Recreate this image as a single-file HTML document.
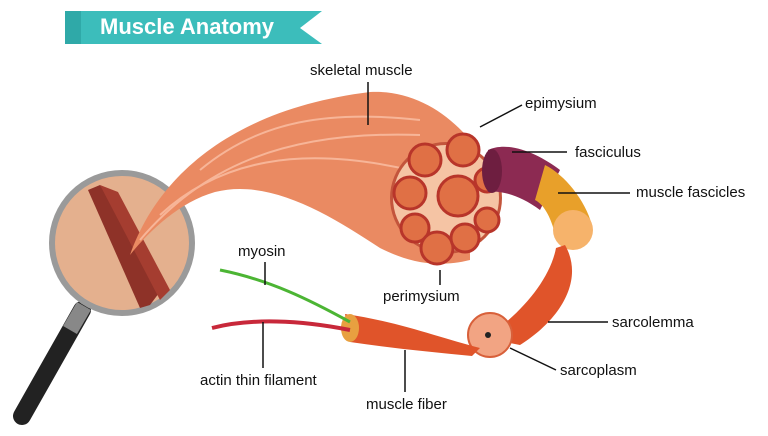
<!DOCTYPE html>
<html><head><meta charset="utf-8"><style>
html,body{margin:0;padding:0;background:#fff;}
svg{display:block;}
text{font-family:"Liberation Sans",sans-serif;fill:#111;}
</style></head><body>
<svg width="768" height="436" viewBox="0 0 768 436" xmlns="http://www.w3.org/2000/svg">
<polygon points="65,11 322,11 300,28 322,44 65,44" fill="#3cbdbb"/>
<rect x="65" y="11" width="16" height="33" fill="#2fa9a8"/>
<text x="100" y="34" font-size="22" font-weight="bold" style="fill:#fff">Muscle Anatomy</text>

<line x1="82" y1="310" x2="22" y2="416" stroke="#222" stroke-width="18" stroke-linecap="round"/>
<line x1="84" y1="306" x2="70" y2="330" stroke="#888" stroke-width="16"/>
<circle cx="122" cy="243" r="73" fill="#9a9a9a"/>
<circle cx="122" cy="243" r="67" fill="#e4b08e"/>
<path d="M88,190 L100,185 L165,285 L150,305 L140,308 Z" fill="#8e3228"/>
<path d="M100,185 L118,192 L170,290 L160,300 Z" fill="#a53d30"/>

<path d="M130,255 C160,170 240,108 370,92 C410,90 445,110 470,140 L470,260 C430,270 400,258 380,248 C330,215 270,178 215,192 C180,202 150,230 130,255 Z" fill="#ea8a62"/>
<path d="M140,240 C200,170 280,130 420,135" stroke="#f7b598" stroke-width="2" fill="none"/>
<path d="M160,215 C220,160 300,145 410,170" stroke="#f7b598" stroke-width="2" fill="none"/>
<path d="M200,170 C260,120 330,110 420,120" stroke="#f7b598" stroke-width="2" fill="none"/>
<circle cx="446" cy="198" r="56" fill="#c3553c"/>
<circle cx="446" cy="198" r="53" fill="#f5c4a4"/>
<g fill="#e07045" stroke="#b8352a" stroke-width="3">
<circle cx="463" cy="150" r="16"/><circle cx="425" cy="160" r="16"/>
<circle cx="410" cy="193" r="16"/><circle cx="458" cy="196" r="20"/>
<circle cx="487" cy="180" r="12"/><circle cx="415" cy="228" r="14"/>
<circle cx="437" cy="248" r="16"/><circle cx="465" cy="238" r="14"/>
<circle cx="487" cy="220" r="12"/>
</g>

<path d="M488,150 C510,140 540,155 560,170 L540,210 C520,195 500,190 488,192 Z" fill="#8c2a52"/>
<ellipse cx="492" cy="171" rx="10" ry="22" fill="#6e1e40"/>
<path d="M545,165 C565,175 585,200 592,225 L556,238 C552,220 545,205 535,200 Z" fill="#e8a02a"/>
<circle cx="573" cy="230" r="20" fill="#f6b36b"/>
<path d="M565,245 C585,280 560,320 520,345 L485,338 C520,315 550,280 556,248 Z" fill="#e0542a"/>
<circle cx="490" cy="335" r="22" fill="#f2a483" stroke="#d8603a" stroke-width="2"/>
<circle cx="488" cy="335" r="3" fill="#222"/>
<path d="M345,314 C400,322 440,338 480,348 L472,356 C430,352 390,348 350,342 Z" fill="#e0542a"/>
<ellipse cx="350" cy="328" rx="9" ry="14" fill="#e8a040"/>
<path d="M220,270 C270,280 310,300 350,322" stroke="#4cb534" stroke-width="3" fill="none"/>
<path d="M212,328 C250,318 300,320 350,330" stroke="#c8283a" stroke-width="4" fill="none"/>

<g stroke="#111" stroke-width="1.5">
<line x1="368" y1="82" x2="368" y2="125"/>
<line x1="480" y1="127" x2="522" y2="105"/>
<line x1="512" y1="152" x2="567" y2="152"/>
<line x1="558" y1="193" x2="630" y2="193"/>
<line x1="440" y1="270" x2="440" y2="285"/>
<line x1="265" y1="262" x2="265" y2="285"/>
<line x1="263" y1="322" x2="263" y2="368"/>
<line x1="405" y1="350" x2="405" y2="392"/>
<line x1="548" y1="322" x2="608" y2="322"/>
<line x1="510" y1="348" x2="556" y2="370"/>
</g>
<g font-size="15">
<text x="310" y="75">skeletal muscle</text>
<text x="525" y="108">epimysium</text>
<text x="575" y="157">fasciculus</text>
<text x="636" y="197">muscle fascicles</text>
<text x="383" y="301">perimysium</text>
<text x="238" y="256">myosin</text>
<text x="200" y="385">actin thin filament</text>
<text x="366" y="409">muscle fiber</text>
<text x="612" y="327">sarcolemma</text>
<text x="560" y="375">sarcoplasm</text>
</g>
</svg>
</body></html>
